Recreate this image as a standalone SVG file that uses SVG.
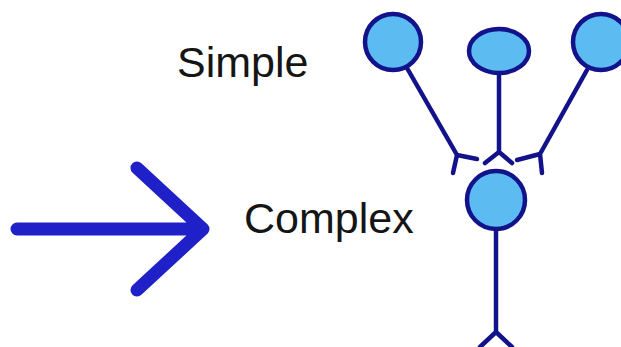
<svg xmlns="http://www.w3.org/2000/svg" width="621" height="347" viewBox="0 0 621 347">
<style>
.lbl{font-family:"Liberation Sans",Arial,sans-serif;font-size:43px;fill:#151515}
.cell{fill:#5cbcf2;stroke:#12128a;stroke-width:4.5}
.ax{fill:none;stroke:#12128a;stroke-width:4.5;stroke-linecap:round;stroke-linejoin:round}
.arrow{fill:none;stroke:#2020c8;stroke-width:13;stroke-linecap:round;stroke-linejoin:round}
</style>
<rect width="621" height="347" fill="#ffffff"/>
<g id="label-simple"><text class="lbl" x="177" y="77">Simple</text></g>
<g id="label-complex"><text class="lbl" x="244" y="233">Complex</text></g>
<g id="connectors">
<path class="ax" d="M407,68 L457,155 M453,173 L457,155 L477,159"/>
<path class="ax" d="M499,75 L499,152 M485,163 L499,152 L512,163"/>
<path class="ax" d="M587,70 L540,154 M517,160 L540,154 L542,173"/>
<path class="ax" d="M496,230 L496,332 M480,347 L496,332 L512,347"/>
<path class="arrow" d="M17,229 L203,229 M137,168 L203,229 L137,290"/>
</g>
<g id="neuron-left"><circle class="cell" cx="393" cy="42" r="28"/></g>
<g id="neuron-middle"><ellipse class="cell" cx="499" cy="51" rx="30" ry="22"/></g>
<g id="neuron-right"><circle class="cell" cx="601" cy="42" r="28"/></g>
<g id="neuron-complex"><circle class="cell" cx="496" cy="200" r="29"/></g>
</svg>
